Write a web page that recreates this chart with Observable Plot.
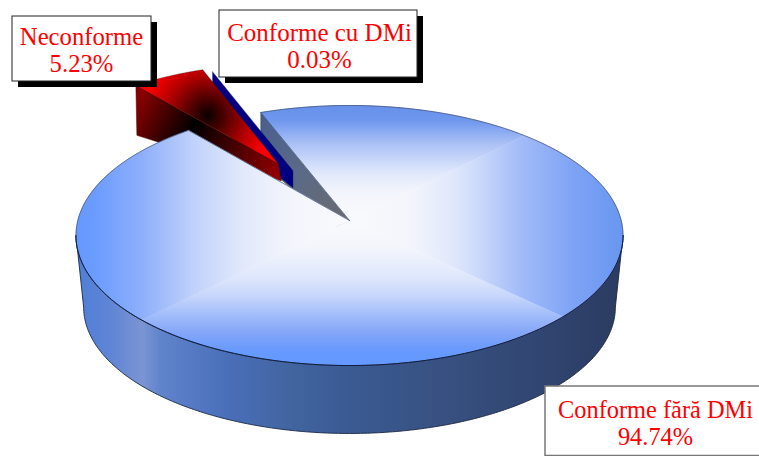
<!DOCTYPE html>
<html><head><meta charset="utf-8">
<script src="https://cdn.jsdelivr.net/npm/d3@7"></script>
<script src="https://cdn.jsdelivr.net/npm/@observablehq/plot@0.6"></script>
<style>html,body{margin:0;padding:0;background:#fff;overflow:hidden}svg{display:block}</style>
</head><body><div id="chart"></div>
<script>
// Data
const sliceNames = ["Conforme fără DMi", "Neconforme", "Conforme cu DMi"];
const sliceShares = [94.74, 5.23, 0.03];
const startAngle = -21.2;

// Slice angles (clockwise from the top of the disc) derived from the shares
let acc = startAngle;
const slices = sliceNames.map((name, i) => {
  const a0 = acc; acc += sliceShares[i] * 3.6;
  return {name, share: sliceShares[i], a0, a1: acc};
});
const [mainS, redS, navyS] = slices;

// Perspective projection of the unit disc onto the page
const rad = d => d * Math.PI / 180;
const cam = {cx: 349, cy: 220, a: 128.3, c: 271.7, k: 0.1154};
function proj(u, v) {
  const d = 1 + cam.k * v;
  return {x: cam.cx + cam.c * u / d, y: cam.cy - cam.a * v / d};
}
const polar = (deg, r = 1, ox = 0, oy = 0) => proj(ox + r * Math.sin(rad(deg)), oy + r * Math.cos(rad(deg)));
// lower disc of the cylinder: slightly smaller and shifted down
const low = p => ({x: cam.cx + (p.x - cam.cx) * 0.972, y: cam.cy + 72 + (p.y - cam.cy) * 0.972});
const arc = (a0, a1, f) => d3.range(0, 241).map(i => f(a0 + (a1 - a0) * i / 240));

const apex = polar(0, 0);
// main disc
const mainOuter = arc(mainS.a0, mainS.a1, a => polar(a));
const mainEdge = polar(mainS.a0);
const frontArc = arc(96.6, 263.4, a => polar(a));
const frontLow = arc(96.6, 263.4, a => low(polar(a))).reverse();

// rectangular path gradient: one polygon per side, split along the diagonals
const creaseRatio = 2.15;
function sideOf(p) {
  const dx = p.x - cam.cx, dy = p.y - cam.cy;
  if (dy < 0 && dx < -130) return "L"; // the upper-left diagonal falls inside the gap
  return Math.abs(dx) / creaseRatio > Math.abs(dy) ? (dx < 0 ? "L" : "R") : (dy < 0 ? "T" : "B");
}
const sectors = [];
{
  let cur = null;
  for (const p of mainOuter) {
    const s = sideOf(p);
    if (!cur || cur.side !== s) {
      const n = {side: s, pts: cur ? [cur.pts[cur.pts.length - 1]] : []};
      sectors.push(n); cur = n;
    }
    cur.pts.push(p);
  }
}

// exploded slices
const explode = (dist, dir) => [dist * Math.sin(rad(dir)), dist * Math.cos(rad(dir))];
const [redX, redY] = explode(0.541, -30.7);
const [navyX, navyY] = explode(0.46, -28.3);
const rApex = proj(redX, redY);
const rArc = arc(redS.a0, redS.a1, a => polar(a, 0.96, redX, redY));
const rLeft = rArc[0];
const nApex = proj(navyX, navyY), nOuter = polar(navyS.a0, 1, navyX, navyY);
const nearDepth = 17, farDepth = 50;

const down = (p, d, sx = 0) => ({x: p.x + sx, y: p.y + d});

const poly = (pts, o) => Plot.line(pts, {x: "x", y: "y", curve: "linear", strokeLinejoin: "round", ...o});

function gradients() {
  const g = d3.create("svg:g");
  const d = g.append("defs");
  // stops are given as distances along the gradient line
  const lin = (id, [x1, y1, x2, y2], stops) => {
    const len = Math.hypot(x2 - x1, y2 - y1);
    const l = d.append("linearGradient").attr("id", id).attr("gradientUnits", "userSpaceOnUse")
      .attr("x1", x1).attr("y1", y1).attr("x2", x2).attr("y2", y2);
    stops.forEach(([o, c]) => l.append("stop").attr("offset", o / len).attr("stop-color", c));
  };
  const white = "#f9fafc";
  lin("gL", [cam.cx, 0, 76, 0], [[0, white], [60, "#f3f5fc"], [106, "#e2e9fb"], [156, "#c0d1fb"], [206, "#8fb0fb"], [256, "#6a9bff"], [273, "#6699ff"]]);
  lin("gR", [cam.cx, 0, 623, 0], [[0, white], [60, "#f3f5fc"], [100, "#e2e9fb"], [124, "#cfdcfa"], [174, "#a0baf8"], [224, "#7ea3f5"], [274, "#6896f0"]]);
  lin("gT", [0, cam.cy, 0, 105], [[0, white], [28, "#f3f5fc"], [46, "#e2e9fb"], [57, "#cfdcfa"], [77, "#aac0f5"], [100, "#6f97ee"], [115, "#6690ea"]]);
  lin("gB", [0, cam.cy, 0, 365], [[0, white], [28, "#f3f5fc"], [49, "#e4ebfc"], [60, "#dbe4fb"], [77, "#c4d4fb"], [93, "#a4bffa"], [110, "#88a8f8"], [127, "#6c9bfc"], [133, "#6699ff"], [145, "#6699ff"]]);
  lin("gWall", [76, 0, 623, 0], [[0, "#4f7ed8"], [34, "#5f85d6"], [66, "#7b94d3"], [84, "#5f84cc"], [151, "#4a6fb9"], [217, "#41649f"], [274, "#3a5a93"], [374, "#37507f"], [474, "#30446f"], [547, "#2b3b60"]]);
  lin("gGray", [258, 112, 348, 220], [[0, "#475e8c"], [70, "#5a6a88"], [140.6, "#6a6a6e"]]);
  lin("gRedWall", [137, 100, 282, 175], [[0, "#8a0000"], [62, "#000000"], [77, "#1a0000"], [163, "#990000"]]);
  const r = d.append("radialGradient").attr("id", "gRed").attr("gradientUnits", "userSpaceOnUse")
    .attr("cx", 207).attr("cy", 115).attr("r", 64);
  [[0, "#0a0000"], [0.25, "#4a0000"], [0.6, "#a80000"], [1, "#ff0000"]].forEach(([o, col]) =>
    r.append("stop").attr("offset", o).attr("stop-color", col));
  return g.node();
}

// label boxes (layout only)
const boxes = [
  {i: 1, x1: 12, x2: 151, y1: 16, y2: 81, tx: 81, ty: 49, border: "#222", sw: 1, fs: 24.7},
  {i: 2, x1: 219, x2: 417, y1: 10, y2: 77, tx: 319, ty: 45, border: "#222", sw: 1, fs: 25},
  {i: 0, x1: 545, x2: 775, y1: 386, y2: 455.5, tx: 655, ty: 422, border: "#777", sw: 1.5, fs: 24.4}
].map(b => ({...b, label: `${slices[b.i].name}\n${slices[b.i].share.toFixed(2)}%`}));

const chart = Plot.plot({
  width: 759, height: 456, margin: 0,
  x: {domain: [0, 759], range: [0, 759], axis: null},
  y: {domain: [0, 456], range: [0, 456], axis: null},
  marks: [
    gradients,
    // radial wall of the main slice
    poly([mainEdge, apex, down(apex, nearDepth), down(mainEdge, farDepth), mainEdge], {fill: "url(#gGray)", stroke: "#333", strokeWidth: 0.5}),
    // navy sliver wall
    poly([nOuter, nApex, down(nApex, nearDepth), down(nOuter, farDepth), nOuter], {fill: "#000080", stroke: "#000050", strokeWidth: 0.4}),
    // red slice
    poly([rLeft, rApex, down(rApex, nearDepth, 3), down(rLeft, farDepth, 1), rLeft], {fill: "url(#gRedWall)", stroke: "#400000", strokeWidth: 0.5}),
    poly([rApex, ...rArc, rApex], {fill: "url(#gRed)", stroke: "#500000", strokeWidth: 0.4}),
    // main slice cylinder wall
    poly([...frontArc, ...frontLow, frontArc[0]], {fill: "url(#gWall)", stroke: "#1c2844", strokeWidth: 0.9}),
    // main slice top
    ...sectors.map(s => poly([apex, ...s.pts, apex], {fill: `url(#g${s.side})`, stroke: `url(#g${s.side})`, strokeWidth: 0.5})),
    poly([apex, ...mainOuter, apex], {stroke: "#3a4a70", strokeWidth: 0.7}),
    poly(frontArc, {stroke: "#101c3c", strokeWidth: 1}),
    // label boxes
    Plot.rect(boxes.filter(b => b.i !== 0), {x1: d => d.x1 + 6, x2: d => d.x2 + 6, y1: d => d.y1 + 6, y2: d => d.y2 + 6, fill: "#000"}),
    Plot.rect(boxes, {x1: "x1", x2: "x2", y1: "y1", y2: "y2", fill: "#fff", stroke: "border", strokeWidth: "sw"}),
    Plot.text(boxes, {x: "tx", y: "ty", text: "label", fill: "#ff0000", fontFamily: "Liberation Serif", fontSize: "fs", lineHeight: 1.1, textAnchor: "middle", lineAnchor: "middle"})
  ]
});
document.getElementById("chart").append(chart);
</script></body></html>
